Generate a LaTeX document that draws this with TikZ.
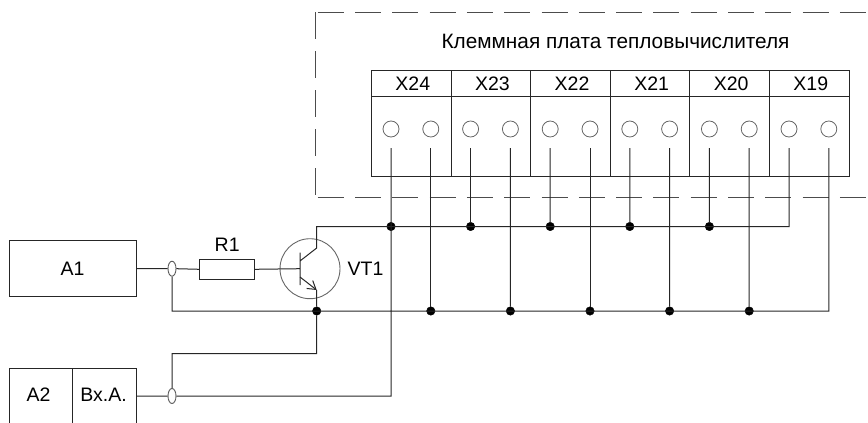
\documentclass[tikz,border=0pt]{standalone}
\usepackage{fontspec}
\setmainfont{Liberation Sans}
\usetikzlibrary{arrows.meta,positioning,shapes.geometric}
\tikzset{
  every node/.style={font=\fontsize{19.5}{22}\selectfont},
  wire/.style={line width=1pt,color=black!85},
  block/.style={draw,line width=1pt,color=black!85,text=black,rectangle,inner sep=0pt},
  terminal/.style={draw,circle,color=black!60,line width=0.8pt,minimum size=16pt,inner sep=0pt},
  junction/.style={draw,circle,fill=black,color=black,minimum size=8.5pt,inner sep=0pt},
  shield/.style={draw,ellipse,color=black!65,line width=0.9pt,minimum width=8pt,minimum height=15pt,inner sep=0pt},
  dashbox/.style={line width=1pt,color=black!70,dash pattern=on 26pt off 11.3pt,dash phase=34.6pt},
  dashside/.style={line width=1pt,color=black!70,dash pattern=on 27pt off 12pt}
}
\begin{document}
\begin{tikzpicture}[x=1pt,y=-1pt]
  \useasboundingbox (0,0) rectangle (868,423);
  \coordinate (tl) at (315,12);
  \coordinate (tr) at (868,12);
  \coordinate (bl) at (315,197);
  \coordinate (br) at (868,197);
  \draw[dashbox] (tl) -- (tr) (bl) -- (br);
  \draw[dashside] (tl) -- (bl);
  \node[font=\fontsize{20.8}{24}\selectfont] (title) at (615.5,41) {Клеммная плата тепловычислителя};
  \node[block,minimum width=477.5pt,minimum height=106pt] (board) at (610.25,123) {};
  \draw[wire] (board.west |- 0,96.5) coordinate (hl) -- (board.east |- 0,96.5) coordinate (hr);
  \foreach \n/\lab [count=\i from 0] in {0/X24,1/X23,2/X22,3/X21,4/X20,5/X19}
    \node (x\lab) at (412.8+79.6*\i,83.5) {\lab};
  \foreach \i in {1,...,5}
    \draw[wire] (371.5+79.6*\i,70) coordinate (dt\i) -- (371.5+79.6*\i,176) coordinate (db\i);
  \foreach \i in {1,...,12} {
    \node[terminal] (t\i) at (391+39.8*\i-39.8,129) {};
    \coordinate (l\i) at (391+39.8*\i-39.8,148);
  }
  \node[block,minimum width=127pt,minimum height=56pt] (a1) at (72.5,268.7) {A1};
  \node[block,minimum width=55pt,minimum height=20pt] (r1) at (227.2,269.3) {};
  \node (r1lab) [above=4pt of r1] {R1};
  \node[draw,circle,color=black!60,line width=0.9pt,minimum size=60pt,inner sep=0pt] (vt1) at (310,268.7) {};
  \node (vt1lab) at (365.5,269) {VT1};
  \coordinate (a2tl) at (9,368.3);
  \coordinate (a2tr) at (136,368.3);
  \coordinate (a2bl) at (9,423);
  \coordinate (a2br) at (136,423);
  \coordinate (a2tm) at (72.5,368.3);
  \coordinate (a2bm) at (72.5,423);
  \draw[wire] (a2bl) -- (a2tl) -- (a2tr) -- (a2br) (a2tm) -- (a2bm);
  \node (a2) at (38.5,395) {A2};
  \node (vxa) at (103.5,395) {Вх.А.};
  \coordinate (a2out) at (136,396);
  \node[shield] (s1) at (172,268.7) {};
  \node[shield] (s2) at (172,396) {};
  \foreach \i/\x in {1/391,3/470.6,5/550.2,7/629.8,9/709.4}
    \node[junction] (jt\i) at (\x,226.5) {};
  \foreach \i/\x in {2/430.8,4/510.4,6/590,8/669.6,10/749.2}
    \node[junction] (jb\i) at (\x,311) {};
  \node[junction] (je) at (316.7,311) {};
  \coordinate (top19) at (l11 |- jt1);
  \coordinate (bot19) at (l12 |- jb2);
  \coordinate (cc) at (316.7,226.5);
  \coordinate (cb) at (316.7,248);
  \coordinate (eb) at (316.7,290);
  \coordinate (bb) at (300,268.7);
  \coordinate (bu) at (300,252.7);
  \coordinate (bd) at (300,285);
  \coordinate (bc) at (300,261);
  \coordinate (be) at (300,277);
  \coordinate (sb) at (s1 |- je);
  \coordinate (rr) at (je |- 0,353.5);
  \coordinate (rl) at (s2 |- 0,353.5);
  \coordinate (vb) at (l1 |- a2out);
  \draw[wire] (a1.east) -- (s1.west) (s1.east) -- (r1.west)
    (r1.east) -- (bb) (bu) -- (bd)
    (eb) -- (je) (bc) -- (cb) -- (cc) -- (top19) -- (l11)
    (s1.south) -- (sb) -- (bot19) -- (l12)
    (je) -- (rr) -- (rl) -- (s2.north)
    (a2out) -- (s2.west) (s2.east) -- (vb) -- (l1);
  \draw[wire,-{Straight Barb[length=8pt,width=10pt]}] (be) -- (eb);
  \foreach \i/\j in {3/jt3,5/jt5,7/jt7,9/jt9,2/jb2,4/jb4,6/jb6,8/jb8,10/jb10}
    \draw[wire] (l\i) -- (\j);
\end{tikzpicture}
\end{document}
